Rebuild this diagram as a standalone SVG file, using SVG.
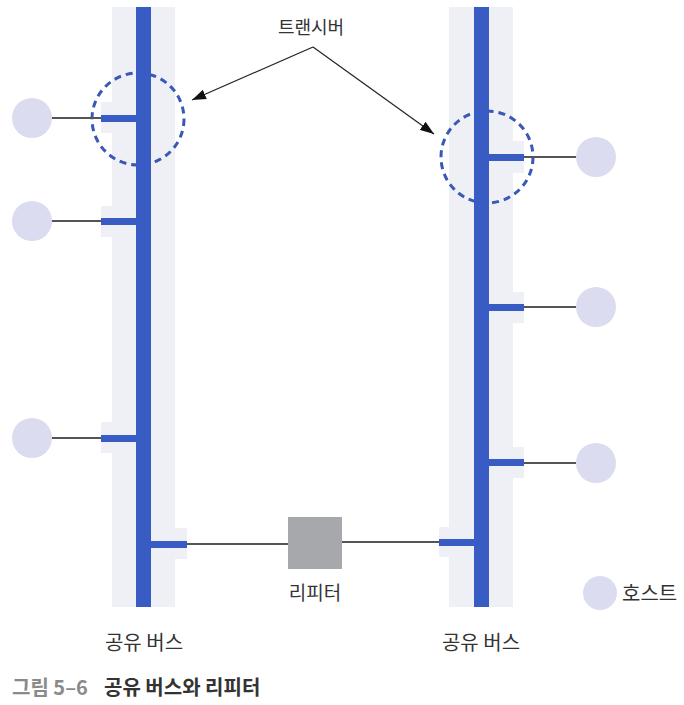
<svg xmlns="http://www.w3.org/2000/svg" width="684" height="705" viewBox="0 0 684 705">
<style>
.bg{fill:#eef0f5}
.bus{fill:#385bc4}
.host{fill:#dcdcf1}
.wire{stroke:#555;stroke-width:2;fill:none}
.ring{fill:none;stroke:#3a58b5;stroke-width:3;stroke-dasharray:7 5}
.lbl{font-family:"Noto Sans CJK KR","Noto Sans",sans-serif;font-size:18px;fill:#333}
.big{font-size:20px}
.cap{font-family:"Noto Sans CJK KR","Noto Sans",sans-serif;font-size:20px;font-weight:bold}
.arrow{stroke:#222;stroke-width:1.2;fill:none}
</style>
<defs>
<marker id="ah" viewBox="0 0 14 10" refX="14" refY="5" markerWidth="14" markerHeight="10" markerUnits="userSpaceOnUse" orient="auto">
<path d="M0,0 L14,5 L0,10 z" fill="#111"/>
</marker>
</defs>
<rect width="684" height="705" fill="#fff"/>

<g id="bus-left">
<rect class="bg" x="112" y="7" width="63" height="600"/>
<rect class="bg" x="101" y="102" width="11" height="31"/>
<rect class="bg" x="101" y="206" width="11" height="31"/>
<rect class="bg" x="101" y="422" width="11" height="31"/>
<rect class="bg" x="175" y="528" width="12" height="31"/>
<circle class="ring" cx="138" cy="119" r="46"/>
<rect class="bus" x="136" y="7" width="15" height="600"/>
<rect class="bus" x="101" y="115" width="35" height="7"/>
<rect class="bus" x="101" y="218" width="35" height="7"/>
<rect class="bus" x="101" y="435" width="35" height="7"/>
<rect class="bus" x="151" y="541" width="36" height="7"/>
<text class="lbl big" x="144" y="650" text-anchor="middle">공유 버스</text>
</g>

<g id="bus-right">
<rect class="bg" x="449" y="7" width="64" height="600"/>
<rect class="bg" x="513" y="141" width="11" height="32"/>
<rect class="bg" x="513" y="292" width="11" height="31"/>
<rect class="bg" x="513" y="447" width="11" height="31"/>
<rect class="bg" x="439" y="527" width="10" height="30"/>
<circle class="ring" cx="487" cy="157" r="46"/>
<rect class="bus" x="474" y="7" width="15" height="600"/>
<rect class="bus" x="489" y="154" width="35" height="7"/>
<rect class="bus" x="489" y="304" width="35" height="7"/>
<rect class="bus" x="489" y="459" width="35" height="7"/>
<rect class="bus" x="439" y="539" width="35" height="7"/>
<text class="lbl big" x="481" y="650" text-anchor="middle">공유 버스</text>
</g>

<g id="connectors">
<line class="wire" x1="51" y1="118" x2="101" y2="118"/>
<line class="wire" x1="51" y1="221" x2="101" y2="221"/>
<line class="wire" x1="51" y1="438" x2="101" y2="438"/>
<line class="wire" x1="524" y1="157" x2="576" y2="157"/>
<line class="wire" x1="524" y1="307" x2="576" y2="307"/>
<line class="wire" x1="524" y1="463" x2="576" y2="463"/>
<line class="wire" x1="187" y1="544" x2="288" y2="544"/>
<line class="wire" x1="342" y1="542" x2="439" y2="542"/>
<line class="arrow" x1="313" y1="47" x2="192" y2="100" marker-end="url(#ah)"/>
<line class="arrow" x1="313" y1="47" x2="434" y2="134" marker-end="url(#ah)"/>
</g>

<g id="host-l1"><circle class="host" cx="32" cy="118" r="20"/></g>
<g id="host-l2"><circle class="host" cx="32" cy="221" r="20"/></g>
<g id="host-l3"><circle class="host" cx="32" cy="438" r="20"/></g>
<g id="host-r1"><circle class="host" cx="596" cy="157" r="20"/></g>
<g id="host-r2"><circle class="host" cx="596" cy="307" r="20"/></g>
<g id="host-r3"><circle class="host" cx="596" cy="463" r="20"/></g>

<g id="repeater">
<rect x="288" y="517" width="54" height="52" fill="#a7a8ab"/>
<text class="lbl" x="315" y="600" text-anchor="middle" style="font-size:19px">리피터</text>
</g>

<g id="transceiver-label">
<text class="lbl" x="311" y="34" text-anchor="middle">트랜시버</text>
</g>

<g id="legend">
<circle class="host" cx="600" cy="593" r="17"/>
<text class="lbl big" x="622" y="601">호스트</text>
</g>

<g id="caption">
<text class="cap" x="12" y="695" fill="#8a8a8a">그림 5–6</text>
<text class="cap" x="104" y="695" fill="#333">공유 버스와 리피터</text>
</g>
</svg>
